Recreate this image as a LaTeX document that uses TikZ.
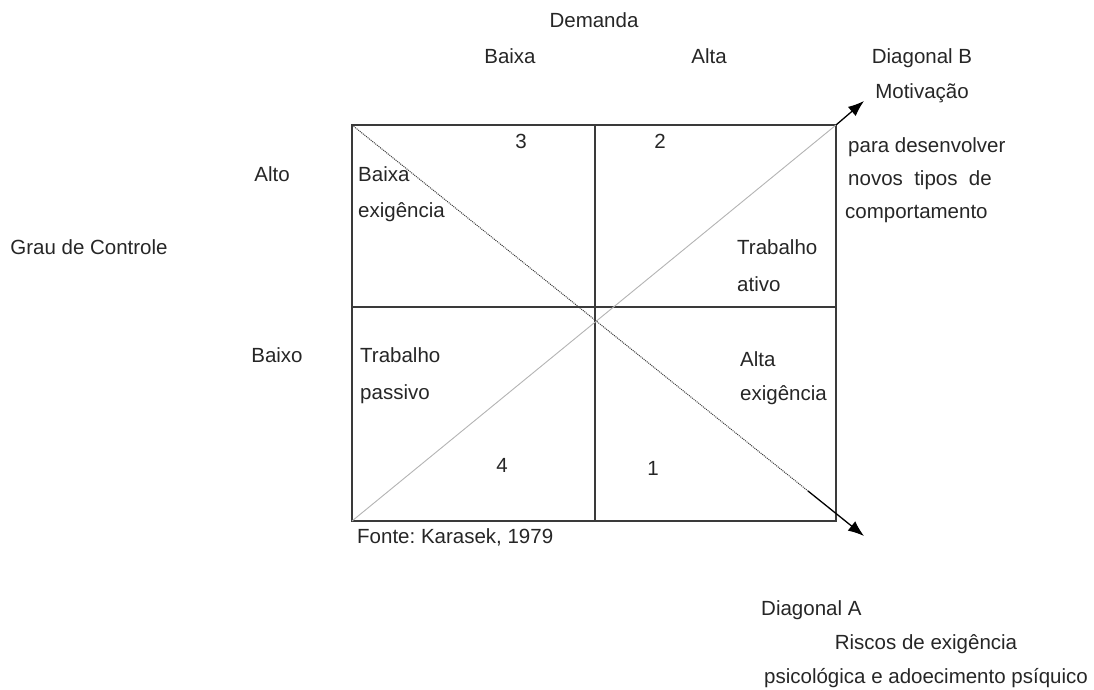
\documentclass[tikz,border=0pt]{standalone}
\usepackage{fontspec}
\setmainfont{Liberation Sans}
\usetikzlibrary{arrows.meta}

\definecolor{inkgray}{HTML}{262626}
\definecolor{linegray}{HTML}{3A3A3A}
\definecolor{lightdiag}{HTML}{B4B4B4}

\tikzset{
  txt/.style={font=\fontsize{20.5}{24}\selectfont\frenchspacing, text=inkgray, inner sep=0pt},
  boxline/.style={linegray, line width=1.3pt},
  diagA/.style={linegray, line width=1pt, densely dotted},
  diagB/.style={lightdiag, line width=0.9pt},
  arrowline/.style={black, line width=1.3pt, arrows={-Latex[length=16pt,width=12pt]}}
}

\begin{document}
\begin{tikzpicture}[x=1pt,y=-1pt]
  \useasboundingbox (0,0) rectangle (1094,690);

  % corners and middles of the box
  \coordinate (tl) at (352,125);
  \coordinate (tr) at (836,125);
  \coordinate (bl) at (352,521);
  \coordinate (br) at (836,521);
  \coordinate (tm) at (595,125);
  \coordinate (bm) at (595,521);
  \coordinate (ml) at (352,307);
  \coordinate (mr) at (836,307);
  \coordinate (tipB) at (864,101);
  \coordinate (endA) at (808,491);
  \coordinate (tipA) at (864,536);

  \draw [boxline] (tl) rectangle (br); % Draws the box
  \draw [boxline] (tm) -- (bm);
  \draw [boxline] (ml) -- (mr);

  \draw [diagB] (bl) -- (tr);
  \draw [arrowline] (tr) -- (tipB);
  \draw [diagA] (tl) -- (endA);
  \draw [arrowline] (endA) -- (tipA);

  % top labels
  \node [txt, anchor=base] (demanda) at (594,28) {Demanda};
  \node [txt, anchor=base] (colbaixa) at (510,64) {Baixa};
  \node [txt, anchor=base] (colalta) at (709,64) {Alta};
  \node [txt, anchor=base] (diagBname) at (922,64) {Diagonal B};
  \node [txt, anchor=base] (motiv) at (922,99) {Motivação};
  \node [txt, anchor=base west] (motivA) at (848,152) {para desenvolver};
  \node [txt, anchor=base west] (motivB) at (848,185) {novos\ \ tipos\ \ de};
  \node [txt, anchor=base west] (motivC) at (845,218) {comportamento};

  % left labels
  \node [txt, anchor=base] (rowalto) at (272,181) {Alto};
  \node [txt, anchor=base] (grau) at (89,254) {Grau de Controle};
  \node [txt, anchor=base] (rowbaixo) at (277,362) {Baixo};

  % cells
  \node [txt, anchor=base] (num3) at (521,148) {3};
  \node [txt, anchor=base] (num2) at (660,148) {2};
  \node [txt, anchor=base] (num4) at (502,472) {4};
  \node [txt, anchor=base] (num1) at (653,475) {1};

  \node [txt, anchor=base west] (baixaA) at (358,181) {Baixa};
  \node [txt, anchor=base west] (baixaB) at (358,217) {exigência};
  \node [txt, anchor=base west] (ativoA) at (737,254) {Trabalho};
  \node [txt, anchor=base west] (ativoB) at (737,291) {ativo};
  \node [txt, anchor=base west] (passA) at (360,362) {Trabalho};
  \node [txt, anchor=base west] (passB) at (360,399) {passivo};
  \node [txt, anchor=base west] (altaA) at (740,366) {Alta};
  \node [txt, anchor=base west] (altaB) at (740,400) {exigência};

  \node [txt, anchor=base west] (fonte) at (357,543) {Fonte: Karasek, 1979};

  % bottom labels
  \node [txt, anchor=base west] (diagAname) at (761,615) {Diagonal A};
  \node [txt, anchor=base] (riscoA) at (926,649) {Riscos de exigência};
  \node [txt, anchor=base] (riscoB) at (926,683) {psicológica e adoecimento psíquico};
\end{tikzpicture}
\end{document}
